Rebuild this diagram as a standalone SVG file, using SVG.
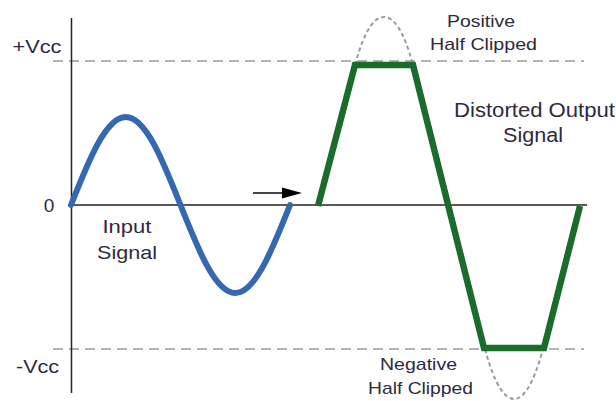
<svg xmlns="http://www.w3.org/2000/svg" width="616" height="401" viewBox="0 0 616 401">
<style>
.lbl{font-family:"Liberation Sans",Arial,sans-serif;fill:#2e2a3e;text-anchor:middle;}
.ref{stroke:#9a9a9a;stroke-width:1.6;stroke-dasharray:10,6;fill:none;}
.ghost{stroke:#9a9a9a;stroke-width:2;stroke-dasharray:4,3;fill:none;}
.axis{stroke:#222;stroke-width:1.5;fill:none;}
</style>
<rect width="616" height="401" fill="#fff"/>
<g id="reference-lines">
<line class="ref" x1="53" y1="61" x2="584" y2="61"/>
<line class="ref" x1="53" y1="349" x2="584" y2="349"/>
</g>
<g id="axes">
<line class="axis" x1="71.5" y1="18" x2="71.5" y2="393"/>
<line class="axis" x1="71" y1="205" x2="587" y2="205"/>
</g>
<g id="clipped-ghost">
<path class="ghost" d="M355,65 C365,28 375,17 384,17 C393,17 403,28 413,65"/>
<path class="ghost" d="M485,349 C495,386 505,399 514,399 C523,399 533,386 543,349"/>
</g>
<g id="input-signal">
<path fill="none" stroke="#3568b0" stroke-width="6" stroke-linecap="round" d="M71,205 C88.86,159.92 105.94,117 125.75,117 C145.56,117 162.64,159.92 180.5,205 C198.36,250.08 215.44,293 235.25,293 C255.06,293 272.14,250.08 290,205"/>
</g>
<g id="output-signal">
<polyline fill="none" stroke="#1b6b2b" stroke-width="6.5" stroke-linejoin="miter" points="318,206 355,65 413,65 484,348 544,348 580,206"/>
</g>
<g id="connectors">
<line x1="253" y1="193" x2="285" y2="193" stroke="#444" stroke-width="2"/>
<polygon points="282,187.5 302,193 282,198.5" fill="#000"/>
</g>
<g id="labels">
<text class="lbl" x="37" y="53" font-size="18" textLength="49" lengthAdjust="spacingAndGlyphs">+Vcc</text>
<text class="lbl" x="49" y="212" font-size="19">0</text>
<text class="lbl" x="37.5" y="373" font-size="18" textLength="43" lengthAdjust="spacingAndGlyphs">-Vcc</text>
<text class="lbl" x="127" y="233" font-size="19" textLength="49" lengthAdjust="spacingAndGlyphs">Input</text>
<text class="lbl" x="127" y="259" font-size="19" textLength="60" lengthAdjust="spacingAndGlyphs">Signal</text>
<text class="lbl" x="481" y="27" font-size="17" textLength="68" lengthAdjust="spacingAndGlyphs">Positive</text>
<text class="lbl" x="483.5" y="50" font-size="17" textLength="107" lengthAdjust="spacingAndGlyphs">Half Clipped</text>
<text class="lbl" x="534.5" y="117" font-size="20" textLength="161" lengthAdjust="spacingAndGlyphs">Distorted Output</text>
<text class="lbl" x="533" y="142" font-size="20" textLength="60" lengthAdjust="spacingAndGlyphs">Signal</text>
<text class="lbl" x="418.5" y="370" font-size="17" textLength="77" lengthAdjust="spacingAndGlyphs">Negative</text>
<text class="lbl" x="420.5" y="394" font-size="17" textLength="105" lengthAdjust="spacingAndGlyphs">Half Clipped</text>
</g>
</svg>
